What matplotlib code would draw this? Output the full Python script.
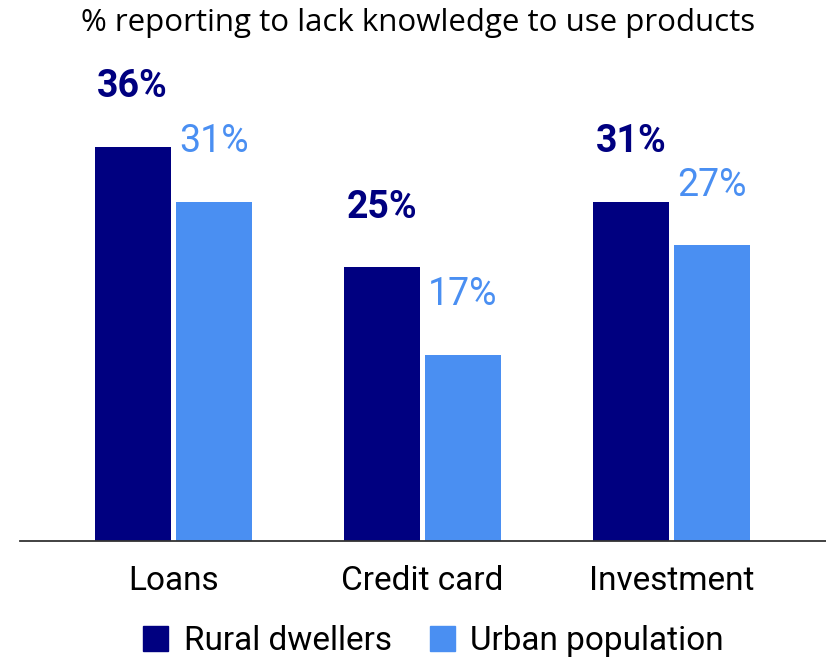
import numpy as np
import matplotlib.pyplot as plt
from matplotlib.lines import Line2D

categories = ['Loans', 'Credit card', 'Investment']
rural = [36, 25, 31]
urban = [31, 17, 27]
series_names = ['Rural dwellers', 'Urban population']

navy = '#000080'
blue = '#4a8ff2'

plt.rcParams['font.family'] = ['Roboto', 'DejaVu Sans']

fig = plt.figure(figsize=(8.26, 6.59), dpi=100)
ax = fig.add_axes([20/826, 118/659, 806/826, 438/659])

x = np.arange(len(categories))
w = 0.305
off = 0.163
b1 = ax.bar(x - off, rural, w, color=navy)
b2 = ax.bar(x + off, urban, w, color=blue)

# value labels sit well above each bar
for xi, v in zip(x - off, rural):
    ax.text(xi, v + 5.5, f'{v}%', ha='center', va='center',
            fontsize=27, fontweight='bold', color=navy)
for xi, v in zip(x + off, urban):
    ax.text(xi, v + 5.5, f'{v}%', ha='center', va='center',
            fontsize=27, color=blue)

ax.set_xlim(-0.615, 2.62)
ax.set_ylim(0, 40)
ax.set_xticks(x, categories)
ax.tick_params(axis='x', length=0, labelsize=24, pad=17)
ax.set_yticks([])
for s in ['top', 'right', 'left']:
    ax.spines[s].set_visible(False)
ax.spines['bottom'].set_color('#333333')
ax.spines['bottom'].set_linewidth(1.3)

fig.text(0.506, 1 - 23/659, '% reporting to lack knowledge to use products',
         ha='center', va='center', fontsize=22.5, family=['Open Sans', 'DejaVu Sans'])

handles = [Line2D([], [], marker='s', linestyle='', markersize=18, color=c)
           for c in (navy, blue)]
fig.legend(handles, series_names, loc='center', bbox_to_anchor=(0.522, 1 - 641/659),
           ncol=2, frameon=False, fontsize=24, handletextpad=0.35,
           columnspacing=1.0, handlelength=1.0)

fig.savefig('out.png', dpi=100)
